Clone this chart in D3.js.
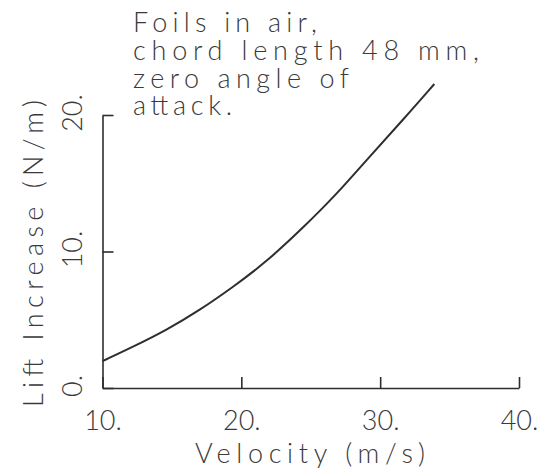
<!DOCTYPE html>
<html>
<head>
<meta charset="utf-8">
<script src="https://cdn.jsdelivr.net/npm/d3@7"></script>
<style>
  html, body { margin: 0; padding: 0; background: #fff; }
  svg { display: block; }
  text { font-family: Lato, "DejaVu Sans", sans-serif; font-weight: 300; fill: #3a3a3a; }
</style>
</head>
<body>
<svg id="chart" width="551" height="474"></svg>
<script>
// ---- data ----
const velocity = [10, 12.2, 14.6, 17.0, 19.4, 21.8, 24.5, 26.9, 29.3, 31.7, 33.9];
const lift     = [1.97, 3.02, 4.24, 5.70, 7.40, 9.23, 11.79, 14.23, 17.03, 19.71, 22.27];
const xTicks = [10, 20, 30, 40];
const yTicks = [0, 10, 20];
const annotation = ["Foils in air,", "chord length 48 mm,", "zero angle of", "attack."];
const xLabel = "Velocity (m/s)";
const yLabel = "Lift Increase (N/m)";

// ---- layout ----
const svg = d3.select("#chart");
const x = d3.scaleLinear().domain([10, 40]).range([102.5, 519]);
const y = d3.scaleLinear().domain([0, 20]).range([388, 115]);
const ink = "#2e2e2e";
const fs = 27;
const fmt = d => d + ".";

// x axis (ticks pointing inward/up)
const gx = svg.append("g").attr("transform", `translate(0,${y(0)})`)
  .call(d3.axisBottom(x).tickValues(xTicks).tickSizeInner(-11).tickSizeOuter(0)
        .tickFormat(fmt));
gx.select(".domain").attr("stroke", ink).attr("stroke-width", 1.6);
gx.selectAll(".tick line").attr("stroke", ink).attr("stroke-width", 1.6);
gx.selectAll(".tick text").attr("y", 42).attr("dy", 0)
  .style("font-size", fs + "px").attr("fill", "#3a3a3a");

// y axis (ticks pointing inward/right)
const gy = svg.append("g").attr("transform", `translate(${x(10)},0)`)
  .call(d3.axisLeft(y).tickValues(yTicks).tickSizeInner(-11).tickSizeOuter(0)
        .tickFormat(""));
gy.select(".domain").attr("stroke", ink).attr("stroke-width", 1.6);
gy.selectAll(".tick line").attr("stroke", ink).attr("stroke-width", 1.6);
gy.selectAll(".tick text").remove();

// rotated y tick labels
svg.append("g").selectAll("text")
  .data(yTicks)
  .join("text")
  .attr("transform", d => `translate(82,${y(d) - 2}) rotate(-90)`)
  .attr("text-anchor", "middle")
  .style("font-size", fs + "px")
  .text(fmt);

// curve
const line = d3.line()
  .x((d, i) => x(velocity[i]))
  .y((d, i) => y(lift[i]))
  .curve(d3.curveBasis);
svg.append("path")
  .datum(lift)
  .attr("d", line)
  .attr("fill", "none")
  .attr("stroke", ink)
  .attr("stroke-width", 2);

// annotation (one text block, four lines)
const annWidths = [184, 346, 216, 99];
const ann = svg.append("text").style("font-size", fs + "px");
annotation.forEach((t, i) => {
  ann.append("tspan")
    .attr("x", 133).attr("y", 32 + i * 27.8)
    .attr("textLength", annWidths[i]).attr("lengthAdjust", "spacing")
    .text(t);
});

// axis titles
svg.append("text")
  .attr("x", 195).attr("y", 463)
  .attr("textLength", 230).attr("lengthAdjust", "spacing")
  .style("font-size", fs + "px")
  .text(xLabel);

svg.append("text")
  .attr("transform", "translate(43,407) rotate(-90)")
  .attr("x", 0).attr("y", 0)
  .attr("textLength", 307).attr("lengthAdjust", "spacing")
  .style("font-size", fs + "px")
  .text(yLabel);
</script>
</body>
</html>
